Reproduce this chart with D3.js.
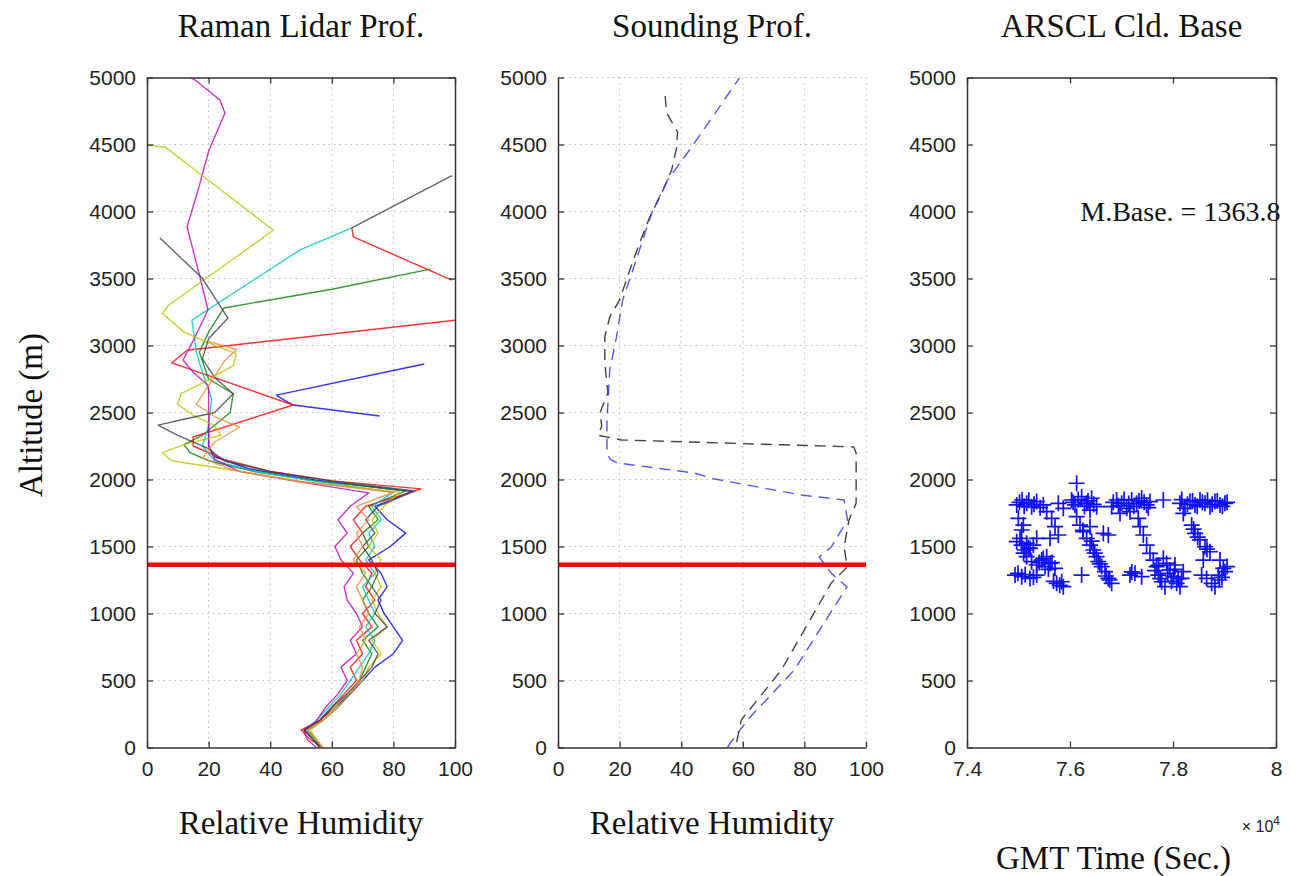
<!DOCTYPE html>
<html><head><meta charset="utf-8">
<script src="https://cdn.jsdelivr.net/npm/d3@7"></script>
<style>body{margin:0;background:#fff}</style>
</head><body><svg id="c" width="1291" height="876"></svg>
<script>
// ---------------- DATA ----------------
const rhTicks = [0,20,40,60,80,100];
const altTicks = [0,500,1000,1500,2000,2500,3000,3500,4000,4500,5000];
const timeTicks = [74000,76000,78000,80000];
const meanBase = 1363.8;

// Raman lidar profiles: lower part (shared altitude grid) + upper part
const lowAlt = [0,60,130,200,300,400,500,600,700,800,900,1000,1100,1200,1300,1400,1500,1600,1700,1800];
const blueLow    = [57,54,51,56,61,66,70,74,80,83,80,77,75,78,76,72,79,84,78,74];
const greenLow   = [56,55,52,57,62,66,69,71,73,70,75,72,70,73,70,68,72,70,75,72];
const redLow     = [57,53,50,56,60,64,68,66,70,68,73,70,74,71,73,69,66,70,67,71];
const cyanLow    = [56,54,52,55,59,63,66,69,72,74,71,74,72,70,74,71,74,72,76,73];
const magentaLow = [55,52,51,55,58,62,65,63,68,66,70,68,65,64,67,63,61,65,62,66];
const yellowLow  = [57,55,53,57,61,65,70,72,76,73,78,75,73,76,74,76,72,75,73,77];
const blackLow   = [56,54,51,56,60,65,69,73,75,72,78,74,76,73,75,73,70,74,71,75];
const orangeLow  = [57,55,52,57,62,66,69,70,68,71,69,72,70,68,71,67,70,68,72,68];

const blueUpRH   = [86,55,33,22,20,20,null,75.5,47.5,44,42,90];
const blueUpAlt  = [1910,1995,2080,2170,2250,2420,null,2474,2556,2600,2630,2862];
const greenUpRH  = [84,55,35,20,14,12,18,27,28,20,17,20,25,60,92];
const greenUpAlt = [1915,1990,2060,2140,2200,2260,2330,2500,2640,2750,2950,3100,3280,3420,3570];
const redUpRH    = [89,60,40,25,15,15,47.5,8,13,100.5];
const redUpAlt   = [1930,1990,2060,2150,2250,2317,2556,2870,2965,3190];
const cyanUpRH   = [80,55,35,22,18,20,21,18,16,14.6,30,49.7,66.5];
const cyanUpAlt  = [1905,1985,2060,2140,2250,2400,2600,2800,2950,3190,3420,3713,3878];
const magentaUpRH  = [72,50,30,22,20,20,20,15,11.7,15.6,19.8,17.2,13,16.6,20,25.3,23.7,15.6,14];
const magentaUpAlt = [1900,1980,2060,2150,2250,2500,2700,2800,2892,3063,3265,3511,3885,4160,4450,4735,4832,4981,5000];
const yellowUpRH  = [82,50,25,8,5,12,24,22,15,10,11,18,28,29,22,12,5,7,41,6,0];
const yellowUpAlt = [1905,1985,2080,2140,2200,2260,2330,2400,2480,2560,2640,2720,2850,2940,3000,3100,3240,3300,3860,4480,4495];
const blackUpRH  = [87,60,40,25,20,10,3.6,12,22,28,22,18,20,26.3,17.9,4.2,null,66.5,99];
const blackUpAlt = [1915,1990,2060,2140,2230,2330,2406,2450,2500,2640,2760,2900,3050,3205,3503,3802,null,3878,4268];
const orangeUpRH  = [80,50,28,18,22,30,22,16,20,25,29,20];
const orangeUpAlt = [1905,1985,2070,2160,2280,2390,2470,2560,2700,2880,2970,3030];
const red2UpRH  = [99,67,66.5];
const red2UpAlt = [3488,3810,3878];

// Sounding profiles
const sondeBlueRH  = [55,56,61.5,76.7,93.8,88.7,84.8,88.7,94,92.9,79,50.8,44.3,19.4,17,15.9,15.9,16.8,19,21,24.3,27.2,30.4,35.6,43.4,58.9];
const sondeBlueAlt = [0,34,205,578,1198,1302,1422,1496,1698,1847,1884,2004,2048,2123,2150,2197,2444,2817,3064,3340,3563,3765,3988,4235,4481,4996];
const sondeBlackRH  = [58,59.5,72.5,88.7,93.9,92.9,94.5,96.8,96.8,96,20.7,13,14.2,13.6,16.2,15.2,15.2,16.8,20,23.3,26.5,29.8,33.7,36.9,38.5,38.8,35.3,34.6];
const sondeBlackAlt = [41,205,578,1227,1347,1496,1698,1824,2197,2243,2295,2330,2400,2496,2646,2870,3064,3213,3340,3563,3765,3959,4138,4310,4474,4593,4735,4907];

// ARSCL cloud base (GMT seconds, metres)
const arsclTime = [74965,75070,75158,75255,75353,75482,75773,75870,76032,76097,76129,76226,76323,76420,76517,76388,76809,76906,77003,77100,77197,77294,77391,77488,77553,76971,77165,77812,78135,78232,78330,78427,78524,78621,78718,78815,78912,79009,78200,
74997,75094,75062,74965,75062,75158,75223,75288,75126,75353,75255,75353,75450,75515,75612,75709,75547,75158,74932,75062,75223,75353,75741,75870,75838,75547,75644,75709,75773,75612,76226,76129,76194,76258,76323,76388,76453,76517,76550,76615,76680,76744,76809,76647,76744,76388,77165,77262,77391,77326,77359,77424,77488,77553,77618,77683,77715,77780,77844,77876,77941,78006,78071,78135,77812,78038,78168,78200,78362,78427,78524,78621,78718,78589,78556,78653,78750,78815,78880,78977,78912,79009,
75020,75110,75200,75300,75420,76060,76160,76280,76350,76460,76840,76940,77050,77140,77240,77340,77440,77520,78170,78280,78380,78470,78570,78670,78760,78860,78960,79050,
75030,75190,75100,75400,75480,75580,75650,74990,75130,75290,75680,75800,76250,76420,76480,76580,76700,76770,77200,77650,77750,77900,77970,78100,78030,77720,78400,78480,78660,78900,78950,79050];
const arsclBase = [1810,1847,1822,1797,1835,1810,1822,1785,1847,1810,1972,1872,1822,1860,1797,1772,1797,1847,1822,1785,1847,1822,1860,1810,1835,1747,1760,1847,1822,1785,1835,1810,1847,1822,1797,1835,1810,1822,1747,
1710,1660,1623,1536,1511,1524,1486,1511,1474,1561,1387,1362,1399,1350,1374,1337,1424,1424,1287,1275,1262,1287,1225,1200,1237,1760,1710,1648,1586,1561,1287,1723,1660,1611,1561,1511,1474,1424,1387,1350,1312,1262,1225,1598,1586,1648,1287,1300,1275,1710,1648,1586,1511,1449,1399,1350,1287,1237,1200,1374,1325,1275,1225,1200,1412,1362,1262,1312,1660,1598,1549,1499,1461,1399,1287,1262,1225,1200,1287,1337,1399,1312,
1830,1800,1845,1815,1790,1830,1850,1800,1840,1815,1830,1805,1850,1820,1800,1840,1830,1790,1850,1815,1840,1800,1830,1845,1815,1840,1800,1830,
1560,1490,1450,1380,1410,1330,1380,1300,1290,1270,1240,1210,1620,1540,1450,1370,1280,1250,1310,1320,1260,1300,1240,1260,1330,1360,1630,1570,1480,1250,1270,1350];

// ---------------- BUILD ----------------
function profile(low, upRH, upAlt){
  const pts = [];
  if (low) low.forEach((r,i)=>pts.push([r, lowAlt[i]]));
  upRH.forEach((r,i)=>pts.push([r, upAlt[i]]));
  return pts;
}
const lidar = [
  {c:'#0000ff', p:profile(blueLow, blueUpRH, blueUpAlt)},
  {c:'#008000', p:profile(greenLow, greenUpRH, greenUpAlt)},
  {c:'#ff0000', p:profile(redLow, redUpRH, redUpAlt)},
  {c:'#00bfbf', p:profile(cyanLow, cyanUpRH, cyanUpAlt)},
  {c:'#bf00bf', p:profile(magentaLow, magentaUpRH, magentaUpAlt)},
  {c:'#bfbf00', p:profile(yellowLow, yellowUpRH, yellowUpAlt)},
  {c:'#404040', p:profile(blackLow, blackUpRH, blackUpAlt)},
  {c:'#f08a30', p:profile(orangeLow, orangeUpRH, orangeUpAlt)},
  {c:'#ff0000', p:profile(null, red2UpRH, red2UpAlt)}
];

const svg = d3.select('#c');
const yTop = 77.5, yBot = 747.5;
const y = d3.scaleLinear().domain([0,5000]).range([yBot, yTop]);
const panels = [
  {x0:147, x1:455, dom:[0,100], ticks:rhTicks, box:true, grid:true, title:'Raman Lidar Prof.', xlabel:'Relative Humidity', fmt:d=>d},
  {x0:558, x1:866, dom:[0,100], ticks:rhTicks, box:false, grid:true, title:'Sounding Prof.', xlabel:'Relative Humidity', fmt:d=>d},
  {x0:967, x1:1276, dom:[74000,80000], ticks:timeTicks, box:true, grid:false, title:'ARSCL Cld. Base', xlabel:'GMT Time (Sec.)', fmt:d=>String(+(d/1e4).toFixed(1))}
];
const axisColor = '#333';
const tickFont = 'Liberation Sans, Arial, sans-serif';
const serif = 'Liberation Serif, Times New Roman, serif';

panels.forEach((P,k)=>{
  P.x = d3.scaleLinear().domain(P.dom).range([P.x0, P.x1]);
  const g = svg.append('g');
  svg.append('clipPath').attr('id','clip'+k).append('rect')
    .attr('x',P.x0).attr('y',yTop).attr('width',P.x1-P.x0).attr('height',yBot-yTop);
  if (P.grid){
    const gg = g.append('g').attr('stroke','#b8b8b8').attr('stroke-width',1).attr('stroke-dasharray','1.5,4');
    P.ticks.slice(1,-1).forEach(t=>gg.append('line').attr('x1',P.x(t)).attr('x2',P.x(t)).attr('y1',yTop).attr('y2',yBot));
    altTicks.slice(1,-1).forEach(t=>gg.append('line').attr('x1',P.x0).attr('x2',P.x1).attr('y1',y(t)).attr('y2',y(t)));
    if (!P.box) gg.append('line').attr('x1',P.x0).attr('x2',P.x1).attr('y1',yTop).attr('y2',yTop);
    if (!P.box) gg.append('line').attr('x1',P.x1).attr('x2',P.x1).attr('y1',yTop).attr('y2',yBot);
  }
  svg.append('text').attr('x',(P.x0+P.x1)/2).attr('y',37).attr('text-anchor','middle')
    .attr('font-family',serif).attr('font-size',33).attr('fill','#111').text(P.title);
  svg.append('text').attr('x',(P.x0+P.x1)/2 - (k==2?8:0)).attr('y',k==2?869:834).attr('text-anchor','middle')
    .attr('font-family',serif).attr('font-size',33).attr('fill','#111').text(P.xlabel);
});

function styleAxis(sel, hideLabels){
  sel.select('.domain').attr('stroke',axisColor).attr('stroke-width',1.5);
  sel.selectAll('.tick line').attr('stroke',axisColor).attr('stroke-width',1.3);
  sel.selectAll('.tick text').attr('font-family',tickFont).attr('font-size',21).attr('fill','#222');
  if (hideLabels) sel.selectAll('.tick text').remove();
}

// Lidar lines
const P0 = panels[0];
const lineL = d3.line().defined(d=>d[0]!=null).x(d=>P0.x(d[0])).y(d=>y(d[1]));
const lg = svg.append('g').attr('clip-path','url(#clip0)');
lidar.forEach(L=>{
  lg.append('path').datum(L.p).attr('d',lineL).attr('fill','none')
    .attr('stroke',L.c).attr('stroke-width',1.4).attr('stroke-opacity',0.8).attr('stroke-linejoin','round');
});

// Sounding lines
const P1 = panels[1];
const lineS = d3.line().x(d=>P1.x(d[0])).y(d=>y(d[1]));
const sg = svg.append('g').attr('clip-path','url(#clip1)');
sg.append('path').datum(sondeBlackRH.map((r,i)=>[r,sondeBlackAlt[i]])).attr('d',lineS)
  .attr('fill','none').attr('stroke','#222').attr('stroke-width',1.4).attr('stroke-opacity',0.85).attr('stroke-dasharray','11,7');
sg.append('path').datum(sondeBlueRH.map((r,i)=>[r,sondeBlueAlt[i]])).attr('d',lineS)
  .attr('fill','none').attr('stroke','#2a2aff').attr('stroke-width',1.4).attr('stroke-opacity',0.8).attr('stroke-dasharray','11,7');

// mean cloud base line
[P0,P1].forEach(P=>{
  svg.append('line').attr('x1',P.x(0)).attr('x2',P.x(100)).attr('y1',y(meanBase)).attr('y2',y(meanBase))
    .attr('stroke','#ff0000').attr('stroke-width',4.5);
});

// ARSCL scatter
const P2 = panels[2];
const sc = svg.append('g').attr('stroke','#1010ff').attr('stroke-width',1.7).attr('fill','none');
arsclTime.forEach((t,i)=>{
  const cx = P2.x(t), cy = y(arsclBase[i]);
  sc.append('path').attr('d',`M${cx-8},${cy}H${cx+8}M${cx},${cy-8}V${cy+8}`);
});
svg.append('text').attr('x',P2.x(76200)).attr('y',221).attr('font-family',serif).attr('font-size',28)
  .attr('fill','#111').text('M.Base. = ' + meanBase.toFixed(1));

// Axes
const yfmt = d3.format('d');
panels.forEach((P,k)=>{
  const left = svg.append('g').attr('transform',`translate(${P.x0},0)`)
    .call(d3.axisLeft(y).tickValues(altTicks).tickFormat(yfmt).tickSizeInner(-6).tickSizeOuter(0).tickPadding(11));
  styleAxis(left,false);
  const bottom = svg.append('g').attr('transform',`translate(0,${yBot})`)
    .call(d3.axisBottom(P.x).tickValues(P.ticks).tickFormat(P.fmt).tickSizeInner(-6).tickSizeOuter(0).tickPadding(14));
  styleAxis(bottom,false);
  if (P.box){
    const right = svg.append('g').attr('transform',`translate(${P.x1},0)`)
      .call(d3.axisRight(y).tickValues(altTicks).tickSizeInner(-6).tickSizeOuter(0));
    styleAxis(right,true);
    const top = svg.append('g').attr('transform',`translate(0,${yTop})`)
      .call(d3.axisTop(P.x).tickValues(P.ticks).tickSizeInner(-6).tickSizeOuter(0));
    styleAxis(top,true);
  }
});

// exponent label
const ex = svg.append('text').attr('x',P2.x1+4).attr('y',832).attr('text-anchor','end')
  .attr('font-family',tickFont).attr('font-size',16).attr('fill','#222');
ex.append('tspan').text('× 10');
ex.append('tspan').attr('dy',-7).attr('font-size',12).text('4');

// y label
svg.append('text').attr('transform','translate(42,415) rotate(-90)').attr('text-anchor','middle')
  .attr('font-family',serif).attr('font-size',33).attr('fill','#111').text('Altitude (m)');
</script>
</body></html>
